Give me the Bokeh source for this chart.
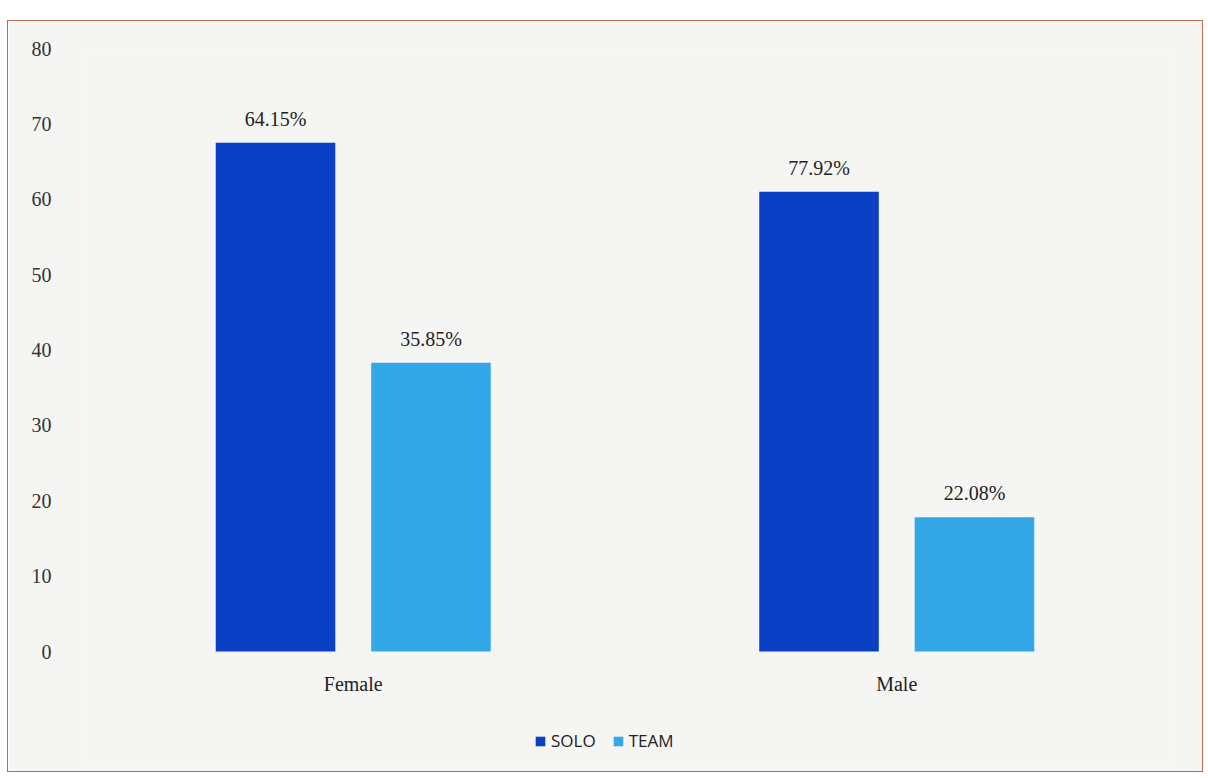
from bokeh.plotting import figure
from bokeh.models import (ColumnDataSource, FactorRange, FixedTicker, Legend, LegendItem,
                          LabelSet)
from bokeh.core.properties import value
from bokeh.transform import dodge
from bokeh.embed import file_html
from bokeh.resources import INLINE

# data
genders = ["Female", "Male"]
solo_values = [67.5, 61.0]
team_values = [38.3, 17.8]
solo_labels = ["64.15%", "77.92%"]
team_labels = ["35.85%", "22.08%"]
y_ticks = [0, 10, 20, 30, 40, 50, 60, 70, 80]

SOLO_COLOR = "#0b3fc4"
TEAM_COLOR = "#34a7e8"
BG = "#f5f5f3"
SERIF = "Liberation Serif"

src = ColumnDataSource(dict(g=genders, solo=solo_values, team=team_values,
                            solo_lab=solo_labels, team_lab=team_labels))

# frame extends below zero so the legend can sit inside it
p = figure(x_range=FactorRange(*genders, range_padding=0), y_range=(-15.12, 80),
           width=1196, height=752, output_backend="svg", toolbar_location=None,
           min_border_left=73, min_border_right=36, min_border_top=27, min_border_bottom=8)
p.margin = (20, 0, 0, 7)
p.styles = {"border": "1.5px solid #c46a4e"}
p.background_fill_color = BG
p.border_fill_color = BG
p.outline_line_color = None
p.grid.visible = False
p.xaxis.visible = False

r1 = p.vbar(x=dodge("g", -0.143, range=p.x_range), top="solo", width=0.22, source=src,
            fill_color=SOLO_COLOR, line_color=None)
r2 = p.vbar(x=dodge("g", 0.143, range=p.x_range), top="team", width=0.22, source=src,
            fill_color=TEAM_COLOR, line_color=None)

for col, lab, off in (("solo", "solo_lab", -0.143), ("team", "team_lab", 0.143)):
    p.add_layout(LabelSet(x=dodge("g", off, range=p.x_range), y=col, text=lab, source=src,
                          text_align="center", text_baseline="bottom", y_offset=13,
                          text_font=value(SERIF), text_font_size="20px", text_color="#222222"))

# category names under the bars
p.add_layout(LabelSet(x="g", y=value(0), text="g", source=src, text_align="center",
                      text_baseline="top", y_offset=-21, text_font=value(SERIF),
                      text_font_size="20px", text_color="#222222"))

p.yaxis.ticker = FixedTicker(ticks=y_ticks)
p.yaxis.axis_line_color = None
p.yaxis.major_tick_line_color = None
p.yaxis.minor_tick_line_color = None
p.yaxis.major_label_text_font = SERIF
p.yaxis.major_label_text_font_size = "20px"
p.yaxis.major_label_text_color = "#333333"
p.yaxis.major_label_standoff = 24

legend = Legend(items=[LegendItem(label="SOLO", renderers=[r1]),
                       LegendItem(label="TEAM", renderers=[r2])],
                orientation="horizontal", location=(453, 13),
                background_fill_alpha=0, border_line_color=None,
                label_text_font="Open Sans", label_text_font_size="17px",
                label_text_color="#222222", glyph_width=12, glyph_height=12,
                label_standoff=5, spacing=16, padding=4, margin=0)
p.add_layout(legend, "center")

open("out.html", "w").write(file_html(p, INLINE))
